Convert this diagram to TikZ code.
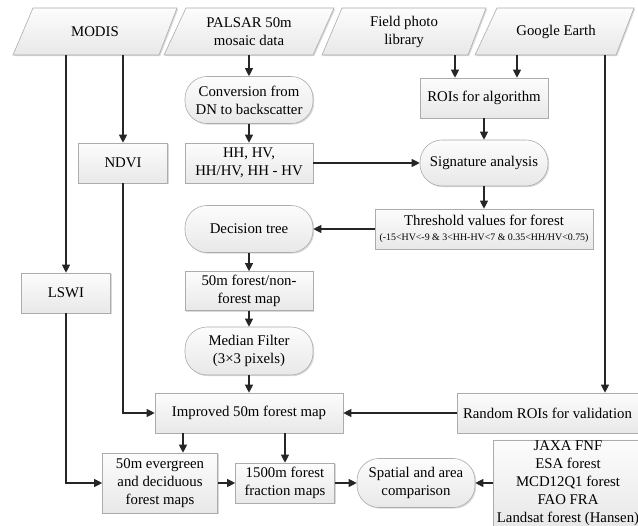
\documentclass[tikz,border=0pt]{standalone}
\usepackage{fontspec}
\setmainfont{Liberation Serif}
\usetikzlibrary{arrows.meta,shadows}
\begin{document}
\begin{tikzpicture}[x=1pt,y=-1pt,
  every node/.style={font=\fontsize{14.8}{18}\selectfont, align=center, inner sep=0pt},
  shaded/.style={draw=gray!65, line width=0.6pt, top color=gray!2, bottom color=gray!18,
    drop shadow={shadow xshift=1.2pt, shadow yshift=-1.2pt, opacity=0.3, fill=gray}},
  box/.style={shaded, rectangle},
  stadium/.style={shaded, rectangle, rounded corners=22pt},
  sz/.style 2 args={minimum width=#1, minimum height=#2},
  arr/.style={draw=black!85, line width=1.1pt, -{Triangle[length=8pt,width=8pt]}}]
\useasboundingbox (0,0) rectangle (638,526);
\clip (0,0) rectangle (638,526);

% input parallelograms
\path[shaded] (33,8) -- (177,8) -- (159,55) -- (13,55) -- cycle;
\path[shaded] (186,8) -- (334,8) -- (313,55) -- (164,55) -- cycle;
\path[shaded] (342,8) -- (486,8) -- (468,55) -- (322,55) -- cycle;
\path[shaded] (497,8) -- (634,8) -- (616,55) -- (475,55) -- cycle;
\node[sz={130}{47}] (modis) at (95,31.5) {MODIS};
\node[sz={130}{47}] (palsar) at (249,31.5) {PALSAR 50m\\mosaic data};
\node[sz={130}{47}] (field) at (404,31.5) {Field photo\\library};
\node[sz={120}{47}] (google) at (556,31.5) {Google Earth};

% process nodes
\node[stadium, sz={128}{47}] (conv) at (249,100) {Conversion from\\DN to backscatter};
\node[box, sz={89}{40}] (ndvi) at (123,163) {NDVI};
\node[box, sz={128}{40}] (hh) at (249,163) {HH, HV,\\HH/HV, HH - HV};
\node[box, sz={128}{40}] (rois) at (484,98) {ROIs for algorithm};
\node[stadium, sz={128}{46}] (sig) at (484,163) {Signature analysis};
\node[stadium, sz={128}{47}] (dec) at (249,229) {Decision tree};
\node[box, sz={218}{40}] (thr) at (484,229) {Threshold values for forest\\[-3pt]{\fontsize{9.9}{11}\selectfont (-15<HV<-9 \& 3<HH-HV<7 \& 0.35<HH/HV<0.75)}};
\node[box, sz={89}{40}] (lswi) at (66,293) {LSWI};
\node[box, sz={128}{39}] (fnf) at (249,291) {50m forest/non-\\forest map};
\node[stadium, sz={128}{48}] (med) at (249,351) {Median Filter\\(3×3 pixels)};
\node[box, sz={188}{40}] (imp) at (249,413) {Improved 50m forest map};
\node[box, sz={181}{40}] (rand) at (547.5,413) {Random ROIs for validation};
\node[box, sz={115}{60}] (ever) at (160,483) {50m evergreen\\and deciduous\\forest maps};
\node[box, sz={99}{40}] (frac) at (285,483) {1500m forest\\fraction maps};
\node[stadium, sz={118}{49}] (spat) at (416,483) {Spatial and area\\comparison};
\node[box, sz={150}{86}] (jaxa) at (568,483) {JAXA FNF\\ESA forest\\MCD12Q1 forest\\FAO FRA\\Landsat forest (Hansen)};

% helper coordinates for connector columns
\coordinate (fx) at (455,0);
\coordinate (gx) at (517,0);
\coordinate (vx) at (605,0);
\coordinate (ix) at (183,0);

% connectors
\draw[arr] (modis.south -| lswi) -- (lswi.north);
\draw[arr] (modis.south -| ndvi) -- (ndvi.north);
\draw[arr] (palsar.south -| conv) -- (conv.north);
\draw[arr] (conv.south) -- (hh.north);
\draw[arr] (field.south -| fx) -- (fx |- rois.north);
\draw[arr] (google.south -| gx) -- (gx |- rois.north);
\draw[arr] (rois.south) -- (sig.north);
\draw[arr] (hh.east) -- (sig.west);
\draw[arr] (sig.south) -- (thr.north);
\draw[arr] (thr.west) -- (dec.east);
\draw[arr] (dec.south) -- (fnf.north);
\draw[arr] (fnf.south) -- (med.north);
\draw[arr] (med.south) -- (imp.north);
\draw[arr] (ndvi.south) |- (imp.west);
\draw[arr] (google.south -| vx) -- (vx |- rand.north);
\draw[arr] (rand.west) -- (imp.east);
\draw[arr] (imp.south -| ix) -- (ix |- ever.north);
\draw[arr] (imp.south -| frac) -- (frac.north);
\draw[arr] (lswi.south) |- (ever.west);
\draw[arr] (ever.east) -- (frac.west);
\draw[arr] (frac.east) -- (spat.west);
\draw[arr] (jaxa.west) -- (spat.east);
\end{tikzpicture}
\end{document}
